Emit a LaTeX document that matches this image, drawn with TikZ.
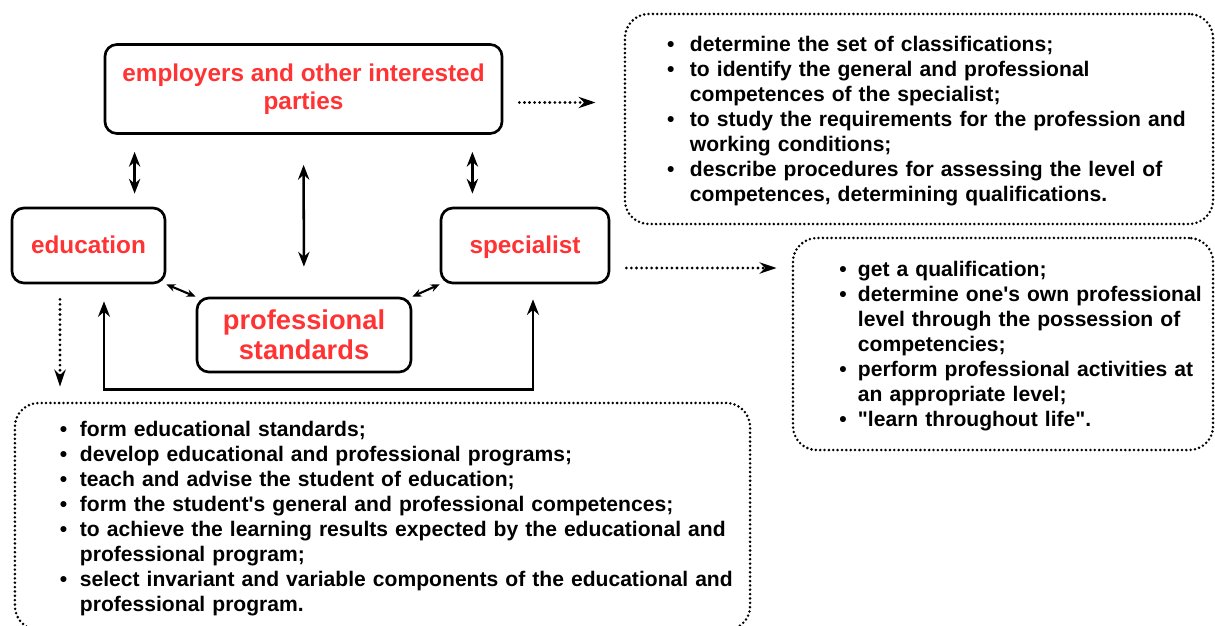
\documentclass[tikz,border=0pt]{standalone}
\usepackage{fontspec}
\setmainfont{Liberation Sans}[Ligatures=TeXOff]
\usetikzlibrary{arrows.meta, positioning, calc}

\definecolor{labelred}{RGB}{255,51,51}

\newenvironment{dotlist}[2]{%
  \begin{list}{\textbullet}{\setlength{\leftmargin}{#1}\setlength{\labelsep}{#2}%
    \setlength{\labelwidth}{6pt}\setlength{\itemsep}{0pt}\setlength{\parsep}{0pt}%
    \setlength{\topsep}{0pt}\setlength{\partopsep}{0pt}\setlength{\rightmargin}{-1cm}}}%
  {\end{list}\par\kern4.3pt}

\tikzset{
  party/.style={draw, line width=1.9pt, rounded corners=0.3cm, text=labelred, align=center,
    inner sep=0pt, font=\bfseries\fontsize{17.3}{19.6}\selectfont},
  duty/.style={draw, line width=2pt, dash pattern=on 0pt off 3.1pt, line cap=round,
    rounded corners=0.6cm, align=left, inner ysep=0pt, font=\bfseries\fontsize{15}{17.8}\selectfont},
  biarrow/.style={{Stealth[length=10.5pt,width=8pt]}-{Stealth[length=10.5pt,width=8pt]}, line width=1.8pt},
  smallarrow/.style={{Stealth[length=6.5pt,width=5.5pt]}-{Stealth[length=6.5pt,width=5.5pt]}, line width=1.5pt},
  fbarrow/.style={{Stealth[length=11pt,width=8.5pt]}-{Stealth[length=11pt,width=8.5pt]}, line width=2pt},
  dotarrow/.style={-{Stealth[length=12pt,width=8pt]}, line width=2.2pt, dash pattern=on 0pt off 3.6pt, line cap=round},
}

\begin{document}
\begin{tikzpicture}[x=0.025cm, y=-0.025cm]
  \useasboundingbox (0,0) rectangle (1215,625);

  % the four parties
  \node[party, minimum width=9.925cm, minimum height=2.225cm] (emp) at (303.5,89)
    {employers and other interested\\parties};
  \node[party, minimum width=3.825cm, minimum height=1.875cm, text height=13pt, text depth=2pt]
    (edu) at (88.5,245.5) {education};
  \node[party, minimum width=4.2cm, minimum height=1.875cm, text height=13pt, text depth=2pt]
    (spec) at (525,245.5) {specialist};
  \node[party, minimum width=5.35cm, minimum height=1.85cm,
    font=\bfseries\fontsize{19.4}{21.3}\selectfont] (prof) at (304,335) {professional\\standards};

  % what each party does
  \node[duty, minimum width=14.7cm, minimum height=5.25cm, text width=13.7cm, inner xsep=0.5cm]
    (tr) at (919,119) {%
    \begin{dotlist}{1.125cm}{11pt}
      \item determine the set of classifications;
      \item to identify the general and professional\newline competences of the specialist;
      \item to study the requirements for the profession and\newline working conditions;
      \item describe procedures for assessing the level of\newline competences, determining qualifications.
    \end{dotlist}};
  \node[duty, minimum width=10.5cm, minimum height=5.3cm, text width=10cm, inner xsep=0.25cm]
    (mr) at (1003,344) {%
    \begin{dotlist}{1.375cm}{8pt}
      \item get a qualification;
      \item determine one's own professional\newline level through the possession of\newline competencies;
      \item perform professional activities at\newline an appropriate level;
      \item "learn throughout life".
    \end{dotlist}};
  \node[duty, minimum width=18.375cm, minimum height=5.675cm, text width=17.875cm, inner xsep=0.25cm]
    (bot) at (382.5,516.5) {%
    \begin{dotlist}{1.375cm}{9pt}
      \item form educational standards;
      \item develop educational and professional programs;
      \item teach and advise the student of education;
      \item form the student's general and professional competences;
      \item to achieve the learning results expected by the educational and\newline professional program;
      \item select invariant and variable components of the educational and\newline professional program.
    \end{dotlist}};

  % links between parties
  \draw[biarrow] ($(emp.south west)+(31,17)$) -- ($(emp.south west |- edu.north)+(31,-13)$);
  \draw[biarrow] ($(emp.south east)+(-31,17)$) -- ($(emp.south east |- spec.north)+(-31,-13)$);
  \draw[biarrow, shorten <=0.75cm, shorten >=0.75cm] (emp.south) -- (prof.north);
  \draw[smallarrow] (edu.south east) -- (prof.north west);
  \draw[smallarrow] (prof.north east) -- (spec.south west);
  \draw[fbarrow] ($(edu.south)+(15.5,17)$) |- ($(prof.south)+(0,16)$) -| ($(spec.south)+(8,15)$);

  % dotted arrows to the duties
  \coordinate (e0) at ($(emp.east)+(16,13.5)$);
  \coordinate (s0) at ($(spec.east)+(16,22.5)$);
  \coordinate (d0) at ($(edu.south)+(-28.5,15)$);
  \draw[dotarrow, shorten >=0.7cm] (e0) -- (e0 -| tr.west);
  \draw[dotarrow, shorten >=0.375cm] (s0) -- (s0 -| mr.west);
  \draw[dotarrow, shorten >=0.375cm] (d0) -- (d0 |- bot.north);
\end{tikzpicture}
\end{document}
